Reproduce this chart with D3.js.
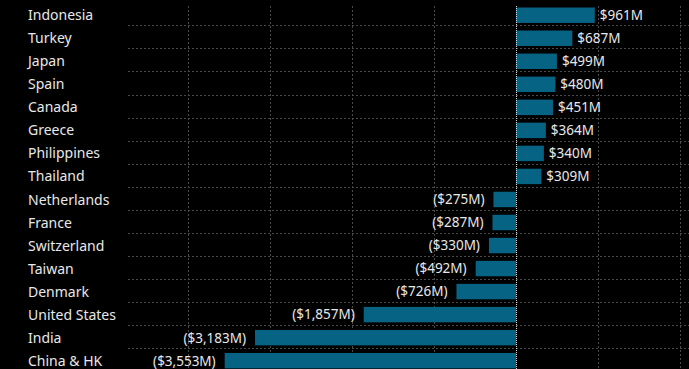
<!DOCTYPE html>
<html>
<head>
<meta charset="utf-8">
<script src="https://cdn.jsdelivr.net/npm/d3@7"></script>
<style>
  html, body { margin: 0; padding: 0; background: #000; }
  svg { display: block; }
</style>
</head>
<body>
<svg id="chart"></svg>
<script>
// country flows, millions of USD
var countries = ["Indonesia", "Turkey", "Japan", "Spain", "Canada", "Greece", "Philippines", "Thailand",
  "Netherlands", "France", "Switzerland", "Taiwan", "Denmark", "United States", "India", "China & HK"]
var values = [961, 687, 499, 480, 451, 364, 340, 309,
  -275, -287, -330, -492, -726, -1857, -3183, -3553]
var gridTicks = [-4000, -3000, -2000, -1000, 1000, 2000]

var data = countries.map((c, i) => ({name: c, value: values[i]}))

var width = 689
var height = 369
var margin = ({top: 3.7, right: 0, bottom: -3.2, left: 128})

var x = d3.scaleLinear()
  .domain([-4732, 2110])
  .range([margin.left, width - margin.right])

var y = d3.scaleBand()
  .domain(countries)
  .range([margin.top, height - margin.bottom])
  .paddingInner(0.33)
  .paddingOuter(0.165)

var svg = d3.select("#chart")
  .attr("width", width)
  .attr("height", height)
  .attr("viewBox", [0, 0, width, height])

svg.append("rect")
  .attr("width", width).attr("height", height)
  .attr("fill", "#000")

// horizontal grid between rows, a little under each bar
var gridY = d => Math.round(y(d) + y.bandwidth() + 2.5) + 0.5
svg.append("g")
  .selectAll("line")
  .data(countries.slice(0, -1))
  .join("line")
  .attr("x1", margin.left)
  .attr("x2", width)
  .attr("y1", gridY)
  .attr("y2", gridY)
  .attr("stroke", "#4a4a4a")
  .attr("stroke-dasharray", "2,2")

// vertical grid
svg.append("g")
  .selectAll("line")
  .data(gridTicks)
  .join("line")
  .attr("x1", d => Math.round(x(d)) + 0.5)
  .attr("x2", d => Math.round(x(d)) + 0.5)
  .attr("y1", 6)
  .attr("y2", height)
  .attr("stroke", "#4a4a4a")
  .attr("stroke-dasharray", "2,2")

// bars
svg.append("g")
  .selectAll("rect")
  .data(data)
  .join("rect")
  .attr("x", d => x(Math.min(0, d.value)))
  .attr("width", d => Math.abs(x(d.value) - x(0)))
  .attr("y", d => y(d.name))
  .attr("height", y.bandwidth())
  .attr("fill", "#076383")

// zero line
svg.append("line")
  .attr("x1", Math.round(x(0)) + 0.5)
  .attr("x2", Math.round(x(0)) + 0.5)
  .attr("y1", 6)
  .attr("y2", height)
  .attr("stroke", "#d8d8d8")
  .attr("stroke-dasharray", "1,1")

var fmt = d3.format(",")

// value labels
svg.append("g")
  .selectAll("text")
  .data(data)
  .join("text")
  .attr("x", d => d.value >= 0 ? x(d.value) + 5 : x(d.value) - 9)
  .attr("y", d => y(d.name) + y.bandwidth() / 2)
  .attr("dy", "0.36em")
  .attr("text-anchor", d => d.value >= 0 ? "start" : "end")
  .attr("font-family", "Noto Sans, sans-serif")
  .attr("font-size", 13.5)
  .attr("fill", "#e8e8e8")
  .text(d => d.value >= 0 ? "$" + fmt(d.value) + "M" : "($" + fmt(-d.value) + "M)")

// country names
svg.append("g")
  .selectAll("text")
  .data(data)
  .join("text")
  .attr("x", 28)
  .attr("y", d => y(d.name) + y.bandwidth() / 2)
  .attr("dy", "0.36em")
  .attr("font-family", "Noto Sans, sans-serif")
  .attr("font-size", 14)
  .attr("fill", "#e8e8e8")
  .text(d => d.name)
</script>
</body>
</html>
